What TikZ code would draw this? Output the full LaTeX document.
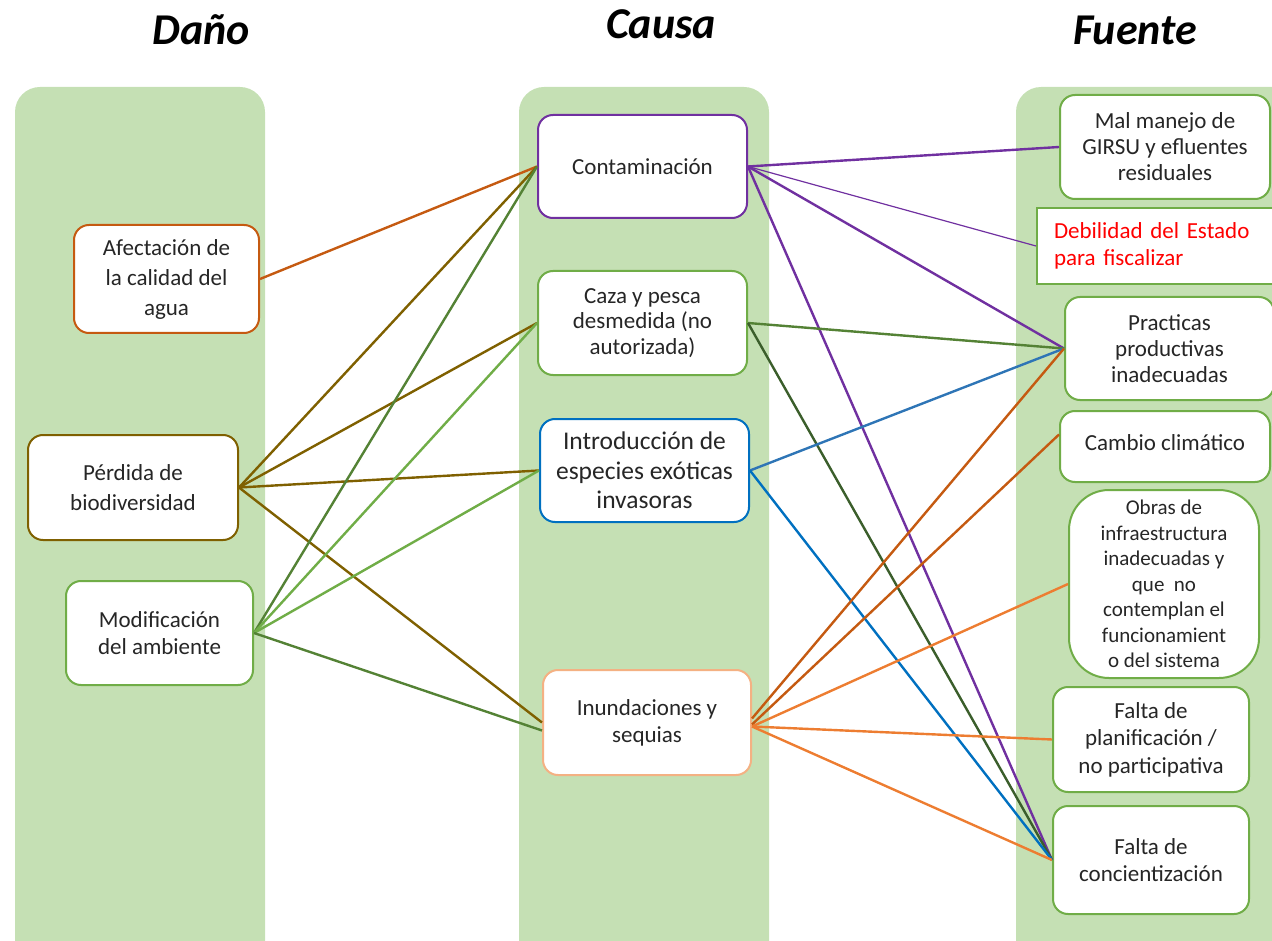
\documentclass[tikz,border=0pt]{standalone}
\usepackage{fontspec}
\setmainfont{Carlito}
\definecolor{colbg}{HTML}{C5E0B4}
\definecolor{txt}{HTML}{262626}
\definecolor{dorange}{HTML}{C55A11}
\definecolor{orng}{HTML}{ED7D31}
\definecolor{lorange}{HTML}{F4B183}
\definecolor{brn}{HTML}{7F6000}
\definecolor{grn}{HTML}{70AD47}
\definecolor{dgrn}{HTML}{548235}
\definecolor{ddgrn}{HTML}{3B5E2B}
\definecolor{prp}{HTML}{7030A0}
\definecolor{blu}{HTML}{0070C0}
\definecolor{sblu}{HTML}{2E75B6}
\tikzset{
  colbox/.style={fill=colbg, rounded corners=25pt},
  ttl/.style={font=\fontsize{44}{50}\selectfont\bfseries\itshape, text=black},
  box/.style={draw, fill=white, line width=2pt, rounded corners=15pt, align=center,
    inner sep=0pt, text=txt, font=\fontsize{23}{30}\selectfont},
  con/.style={line width=2.4pt},
}
\begin{document}
\begin{tikzpicture}[x=1pt,y=-1pt]
\useasboundingbox (0,0) rectangle (1272,941);
\clip (0,0) rectangle (1272,941);
% columns
\fill[colbox] (15,87) rectangle (265,1000);
\fill[colbox] (519,87) rectangle (769,1000);
\fill[colbox] (1016,87) rectangle (1320,1000);
% titles
\node[ttl] (tdano) at (201,30) {Daño};
\node[ttl] (tcausa) at (661,24) {Causa};
\node[ttl] (tfuente) at (1135,30) {Fuente};
% Daño
\node[box, draw=dorange, minimum width=185pt, minimum height=108pt] (afect) at (166.5,279) {Afectación de\\la calidad del\\agua};
\node[box, draw=brn, minimum width=210pt, minimum height=105pt] (perd) at (133,487.5) {Pérdida de\\biodiversidad};
\node[box, draw=grn, minimum width=187pt, minimum height=104pt, font=\fontsize{23}{27}\selectfont] (modif) at (159.5,633) {Modificación\\del ambiente};
% Causa
\node[box, draw=prp, minimum width=209pt, minimum height=103pt] (conta) at (642.5,166.5) {Contaminación};
\node[box, draw=grn, minimum width=209pt, minimum height=104pt, font=\fontsize{23}{25.5}\selectfont] (caza) at (642.5,323) {Caza y pesca\\desmedida (no\\autorizada)};
\node[box, draw=blu, minimum width=209pt, minimum height=103pt, font=\fontsize{25.5}{29.5}\selectfont] (intro) at (644.5,470.5) {Introducción de\\especies exóticas\\invasoras};
\node[box, draw=lorange, minimum width=208pt, minimum height=105pt, font=\fontsize{23}{27}\selectfont] (inund) at (647,722.5) {Inundaciones y\\sequias};
% Fuente
\node[box, draw=grn, minimum width=210pt, minimum height=104pt, font=\fontsize{23}{26}\selectfont] (mal) at (1165,147) {Mal manejo de\\GIRSU y efluentes\\residuales};
\node[box, draw=grn, rounded corners=0pt, minimum width=237pt, minimum height=76pt, align=left, text width=203pt, text=red, font=\fontsize{23}{27}\selectfont] (debil) at (1155.5,246) {Debilidad del Estado\\para fiscalizar};
\node[box, draw=grn, minimum width=209pt, minimum height=103pt, font=\fontsize{23}{26}\selectfont] (pract) at (1169.5,348.5) {Practicas\\productivas\\inadecuadas};
\node[box, draw=grn, minimum width=210pt, minimum height=71pt] (cambio) at (1165,446.5) {\raisebox{8pt}{Cambio climático}};
\node[box, draw=grn, rounded corners=40pt, minimum width=190pt, minimum height=188pt, font=\fontsize{21}{25.5}\selectfont] (obras) at (1164,584) {Obras de\\infraestructura\\inadecuadas y\\que\ \ no\\contemplan el\\funcionamient\\o del sistema};
\node[box, draw=grn, minimum width=196pt, minimum height=105pt, font=\fontsize{23}{27.5}\selectfont] (plan) at (1151,739.5) {Falta de\\planificación /\\no participativa};
\node[box, draw=grn, minimum width=196pt, minimum height=108pt, font=\fontsize{23}{27}\selectfont] (conc) at (1151,860) {Falta de\\concientización};
% connectors Daño -> Causa
\draw[con, dorange] (afect.east) -- (conta.west);
\draw[con, brn] (perd.east) -- (conta.west);
\draw[con, brn] (perd.east) -- (caza.west);
\draw[con, brn] (perd.east) -- (intro.west);
\draw[con, brn] (perd.east) -- (inund.west);
\draw[con, dgrn] (modif.east) -- (conta.west);
\draw[con, grn] (modif.east) -- (caza.west);
\draw[con, grn] (modif.east) -- (intro.west);
\draw[con, dgrn] (modif.east) -- ([yshift=-8pt]inund.west);
% connectors Causa -> Fuente
\draw[con, prp] (conta.east) -- (mal.west);
\draw[prp, line width=1.2pt] (conta.east) -- (debil.west);
\draw[con, prp] (conta.east) -- (pract.west);
\draw[con, prp] (conta.east) -- (conc.west);
\draw[con, dgrn] (caza.east) -- (pract.west);
\draw[con, ddgrn] (caza.east) -- (conc.west);
\draw[con, sblu] (intro.east) -- (pract.west);
\draw[con, blu] (intro.east) -- (conc.west);
\draw[con, dorange] ([yshift=4pt]inund.east) -- (pract.west);
\draw[con, dorange] ([yshift=-2pt]inund.east) -- ([yshift=12pt]cambio.west);
\draw[con, orng] ([yshift=-4pt]inund.east) -- (obras.west);
\draw[con, orng] ([yshift=-4pt]inund.east) -- (plan.west);
\draw[con, orng] ([yshift=-4pt]inund.east) -- (conc.west);
\end{tikzpicture}
\end{document}
